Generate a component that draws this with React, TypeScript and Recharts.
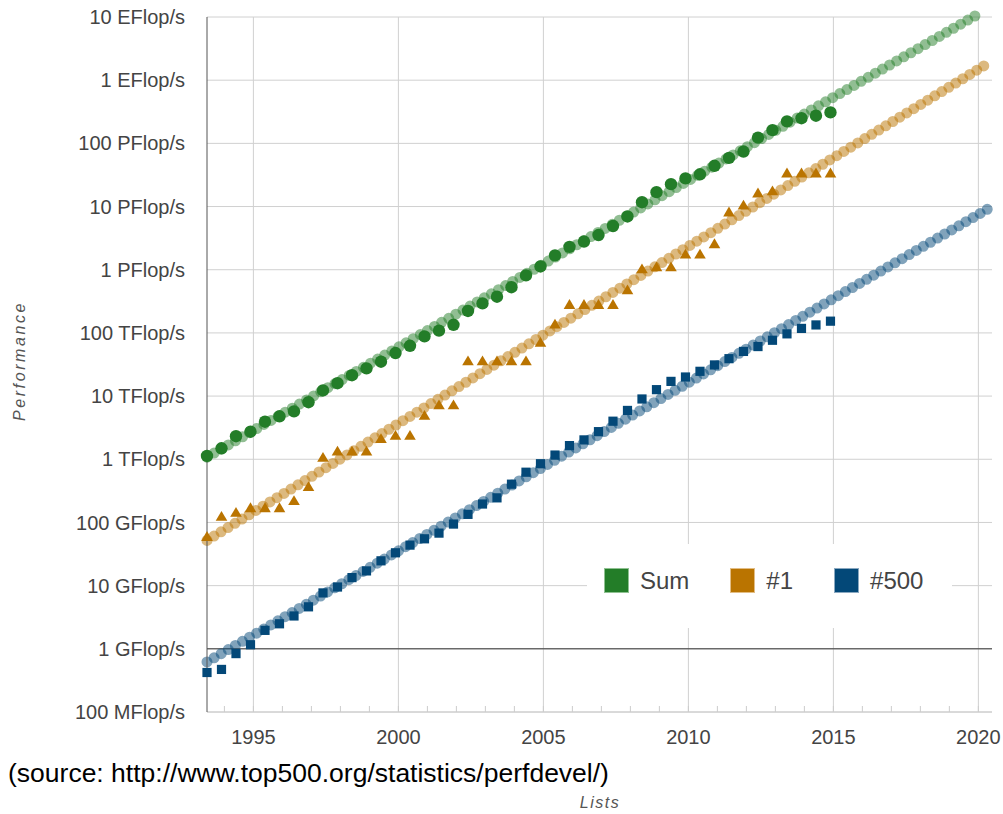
import React from 'react';
import {
  ScatterChart, Scatter, XAxis, YAxis, CartesianGrid, ReferenceLine, Legend,
} from 'recharts';

// TOP500 list editions (June / November)
const LISTS = [
  '1993-06', '1993-11', '1994-06', '1994-11', '1995-06', '1995-11', '1996-06', '1996-11',
  '1997-06', '1997-11', '1998-06', '1998-11', '1999-06', '1999-11', '2000-06', '2000-11',
  '2001-06', '2001-11', '2002-06', '2002-11', '2003-06', '2003-11', '2004-06', '2004-11',
  '2005-06', '2005-11', '2006-06', '2006-11', '2007-06', '2007-11', '2008-06', '2008-11',
  '2009-06', '2009-11', '2010-06', '2010-11', '2011-06', '2011-11', '2012-06', '2012-11',
  '2013-06', '2013-11', '2014-06', '2014-11',
];

// Rmax in GFlop/s
const SUM_GFLOPS = [
  1128.6, 1493.4, 2317, 2732, 3927, 4784, 5723, 7998,
  12300, 16000, 21400, 27500, 35000, 48000, 62500, 88000,
  108500, 134300, 222400, 293200, 374400, 528400, 813200, 1127000,
  1690000, 2300000, 2790000, 3540000, 4920000, 6970000, 11700000, 16900000,
  22600000, 27900000, 32400000, 44200000, 58900000, 74200000, 123400000, 162000000,
  223000000, 250000000, 274000000, 309000000,
];
const TOP1_GFLOPS = [
  59.7, 124.5, 143.4, 170.4, 170.4, 170.4, 220.4, 368.2,
  1068, 1338, 1338, 1338, 2121, 2379, 2379, 4938,
  7226, 7226, 35860, 35860, 35860, 35860, 35860, 70720,
  136800, 280600, 280600, 280600, 280600, 478200, 1026000, 1105000,
  1105000, 1759000, 1759000, 2566000, 8162000, 10510000, 16324750, 17590000,
  33862700, 33862700, 33862700, 33862700,
];
const LAST_GFLOPS = [
  0.422, 0.472, 0.84, 1.16, 1.96, 2.49, 3.31, 4.62,
  7.67, 9.51, 13.4, 17.1, 24.7, 33.1, 43.8, 55.1,
  67.8, 94.3, 134.3, 195.8, 245.1, 403.4, 624, 850.6,
  1166, 1646, 2026, 2737, 4005, 5929, 9000, 12640,
  17090, 20050, 24670, 31120, 39090, 50940, 60820, 76500,
  96620, 117800, 133700, 153400,
];

// fitted trend lines: [start, end] as [year position, GFlop/s]
const SUM_TREND = [[1993.4, 1080], [2020.12, 1.2e10]];
const TOP1_TREND = [[1993.4, 52], [2020.4, 1.93e9]];
const LAST_TREND = [[1993.4, 0.62], [2020.47, 1.0e7]];

const Y_TICKS = [1e8, 1e9, 1e10, 1e11, 1e12, 1e13, 1e14, 1e15, 1e16, 1e17, 1e18, 1e19];
const Y_LABELS = [
  '100 MFlop/s', '1 GFlop/s', '10 GFlop/s', '100 GFlop/s', '1 TFlop/s', '10 TFlop/s',
  '100 TFlop/s', '1 PFlop/s', '10 PFlop/s', '100 PFlop/s', '1 EFlop/s', '10 EFlop/s',
];
const X_TICKS = [1994, 1995, 1996, 1997, 1998, 1999, 2000, 2001, 2002, 2003, 2004, 2005, 2006,
  2007, 2008, 2009, 2010, 2011, 2012, 2013, 2014, 2015, 2016, 2017, 2018, 2019, 2020];
const X_GRID = [1995, 2000, 2005, 2010, 2015, 2020];

const GREEN = '#237d28';
const ORANGE = '#ba7400';
const BLUE = '#034878';
const FONT = '"Liberation Sans", Arial, sans-serif';

const listPos = (l: string) => Number(l.slice(0, 4)) + (l.slice(5) === '06' ? 0.4 : 0.9);
const toPoints = (vals: number[]) => LISTS.map((l, i) => ({ x: listPos(l), y: vals[i] * 1e9 }));

const sumData = toPoints(SUM_GFLOPS);
const top1Data = toPoints(TOP1_GFLOPS);
const lastData = toPoints(LAST_GFLOPS);

const yLabel = (v: number) => Y_LABELS[Y_TICKS.findIndex((t) => Math.abs(Math.log10(t) - Math.log10(v)) < 0.01)] ?? '';

const XTick = (props: any) => {
  const { x, y, payload } = props;
  const yr = payload.value;
  return (
    <g>
      <line x1={x} x2={x} y1={y - 6} y2={y} stroke="#ccc" />
      {yr % 5 === 0 && (
        <text x={x} y={y + 32} textAnchor="middle" fill="#444" fontSize={20} fontFamily={FONT}>
          {yr}
        </text>
      )}
    </g>
  );
};

const Circle = (p: any) => <circle cx={p.cx} cy={p.cy} r={6.2} fill={GREEN} />;
const Triangle = (p: any) => (
  <path d={`M${p.cx},${p.cy - 5.5}L${p.cx + 5.8},${p.cy + 4.3}L${p.cx - 5.8},${p.cy + 4.3}Z`} fill={ORANGE} />
);
const Square = (p: any) => <rect x={p.cx - 4.6} y={p.cy - 4.6} width={9.2} height={9.2} fill={BLUE} />;

// trend drawn as a chain of overlapping translucent beads
const trend = (pts: number[][], color: string, key: string) => {
  const seg = pts.map(([x, g]) => ({ x, y: g * 1e9 }));
  const common = {
    segment: seg,
    ifOverflow: 'visible' as const,
    stroke: color,
    strokeWidth: 11,
    strokeLinecap: 'round' as const,
    strokeOpacity: 0.5,
    strokeDasharray: '0 16.4',
  };
  return [
    <ReferenceLine key={key + 'a'} {...common} />,
    <ReferenceLine key={key + 'b'} {...common} strokeDashoffset={-8.2} />,
  ];
};

const LEGEND = [
  { name: 'Sum', color: GREEN, border: '#8fc191' },
  { name: '#1', color: ORANGE, border: '#e2bd85' },
  { name: '#500', color: BLUE, border: '#8aa8c0' },
];

const renderLegend = () => (
  <div style={{ display: 'flex', alignItems: 'center', paddingLeft: 17, paddingTop: 24, fontFamily: FONT }}>
    {LEGEND.map((item) => (
      <div key={item.name} style={{ display: 'flex', alignItems: 'center', marginRight: 41 }}>
        <div style={{ width: 23, height: 23, background: item.color, border: `1px solid ${item.border}` }} />
        <span style={{ marginLeft: 11, fontSize: 24, lineHeight: '25px', color: '#444' }}>{item.name}</span>
      </div>
    ))}
  </div>
);

export default function App() {
  return (
    <div style={{ position: 'absolute', left: 0, top: 0, width: 1003, height: 814, background: '#fff', fontFamily: FONT }}>
      <ScatterChart width={1003} height={814} margin={{ top: 17, right: 11, bottom: 72, left: 0 }}>
        <CartesianGrid vertical={false} stroke="#d0d0d0" />
        {X_GRID.map((yr) => (
          <ReferenceLine key={yr} x={yr} stroke="#d0d0d0" />
        ))}
        <XAxis
          dataKey="x"
          type="number"
          domain={[1993.4, 2020.47]}
          ticks={X_TICKS}
          tick={<XTick />}
          tickSize={0}
          tickMargin={0}
          axisLine={{ stroke: '#ccc' }}
          tickLine={false}
          height={30}
          interval={0}
        />
        <YAxis
          dataKey="y"
          type="number"
          scale="log"
          domain={[1e8, 1e19]}
          ticks={Y_TICKS}
          tickFormatter={yLabel}
          width={207}
          tickSize={0}
          tickMargin={22}
          tickLine={false}
          axisLine={{ stroke: '#555' }}
          tick={{ fill: '#444', fontSize: 20, fontFamily: FONT }}
          interval={0}
        />
        <ReferenceLine y={1e9} stroke="#333" />
        {trend(SUM_TREND, GREEN, 'sum')}
        {trend(TOP1_TREND, ORANGE, 'top1')}
        {trend(LAST_TREND, BLUE, 'last')}
        <Scatter name="Sum" data={sumData} shape={Circle} isAnimationActive={false} />
        <Scatter name="#1" data={top1Data} shape={Triangle} isAnimationActive={false} />
        <Scatter name="#500" data={lastData} shape={Square} isAnimationActive={false} />
        <Legend
          layout="horizontal"
          verticalAlign="middle"
          align="center"
          content={renderLegend}
          wrapperStyle={{ position: 'absolute', left: 587, top: 544, width: 365, height: 84, background: '#fff' }}
        />
      </ScatterChart>
      <div style={{ position: 'absolute', left: 8, top: 760, fontSize: 26.5, lineHeight: '27px', color: '#000', whiteSpace: 'nowrap' }}>
        (source: http://www.top500.org/statistics/perfdevel/)
      </div>
      <div style={{ position: 'absolute', left: 500, width: 200, top: 794, textAlign: 'center', fontSize: 16, fontStyle: 'italic', letterSpacing: 1.5, color: '#555' }}>
        Lists
      </div>
      <div
        style={{
          position: 'absolute', left: -80, top: 352, width: 200, textAlign: 'center', fontSize: 16,
          fontStyle: 'italic', letterSpacing: 2.6, color: '#555', transform: 'rotate(-90deg)',
        }}
      >
        Performance
      </div>
    </div>
  );
}
